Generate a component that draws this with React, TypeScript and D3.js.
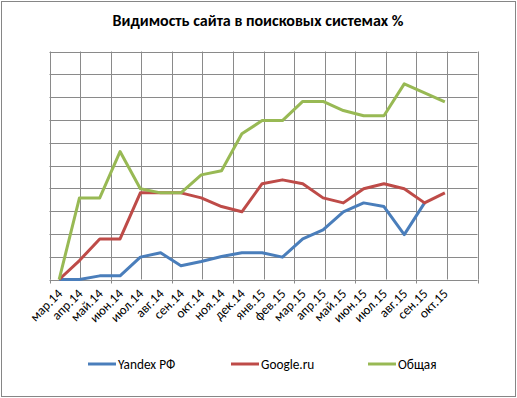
import React from 'react';
import * as d3 from 'd3';

const months = ['мар.14', 'апр.14', 'май.14', 'июн.14', 'июл.14', 'авг.14', 'сен.14', 'окт.14', 'ноя.14', 'дек.14',
  'янв.15', 'фев.15', 'мар.15', 'апр.15', 'май.15', 'июн.15', 'июл.15', 'авг.15', 'сен.15', 'окт.15'];

const yandex = [0, 0, 0.16, 0.16, 0.98, 1.17, 0.6, 0.79, 1.01, 1.17, 1.17, 0.98, 1.78, 2.18, 2.97, 3.36, 3.2, 1.97, 3.36, null];
const google = [0, 0.83, 1.78, 1.78, 3.8, 3.8, 3.8, 3.58, 3.2, 2.97, 4.2, 4.37, 4.2, 3.58, 3.36, 3.98, 4.2, 3.98, 3.36, 3.8];
const total = [0, 3.58, 3.58, 5.61, 3.98, 3.8, 3.8, 4.59, 4.77, 6.39, 6.97, 6.97, 7.81, 7.81, 7.41, 7.18, 7.18, 8.58, 8.19, 7.79];

const seriesNames = ['Yandex РФ', 'Google.ru', 'Общая'];
const seriesColors = ['#4a7ebb', '#be4b48', '#98b954'];

const W = 517;
const H = 398;
const plot = { left: 49.5, right: 477.5, top: 51.5, bottom: 279.5 };

export default function App() {
  const x = d3.scaleBand<string>().domain(months).range([49, 49 + 20 * 20.3]);
  const cx = (m: string) => (x(m) as number) + x.bandwidth() / 2;
  const y = d3.scaleLinear().domain([0, 10]).range([plot.bottom, plot.top]);
  const gx = d3.scaleLinear().domain([0, 14]).range([plot.left, plot.right]);

  const line = d3
    .line<number | null>()
    .defined(d => d != null)
    .x((_, i) => cx(months[i]))
    .y(d => y(d as number));

  const data = [yandex, google, total];
  const font = 'Carlito, Calibri, "Liberation Sans", Arial, sans-serif';

  return (
    <svg width={W} height={H} style={{ position: 'absolute', left: 0, top: 0, background: '#fff' }} fontFamily={font}>
      <rect x={1.5} y={1.5} width={514} height={395} fill="#fff" stroke="#868686" />
      <text x={258} y={26} textAnchor="middle" fontWeight="bold" fontSize={16} fill="#000">
        Видимость сайта в поисковых системах %
      </text>

      <g stroke="#8a8a8a" strokeWidth={1}>
        {d3.range(11).map(i => (
          <line key={'h' + i} x1={plot.left} x2={plot.right} y1={Math.round(y(i)) + 0.5} y2={Math.round(y(i)) + 0.5} />
        ))}
        {d3.range(15).map(i => (
          <line key={'v' + i} x1={Math.round(gx(i)) + 0.5} x2={Math.round(gx(i)) + 0.5} y1={plot.top} y2={plot.bottom} />
        ))}
        {d3.range(0, 15, 2).map(i => (
          <line key={'t' + i} x1={Math.round(gx(i)) + 0.5} x2={Math.round(gx(i)) + 0.5} y1={plot.bottom} y2={plot.bottom + 4} />
        ))}
      </g>

      {data.map((s, k) => (
        <path key={k} d={line(s) || ''} fill="none" stroke={seriesColors[k]} strokeWidth={3} strokeLinejoin="round" />
      ))}

      {months.map(m => (
        <text
          key={m}
          transform={`translate(${cx(m) + 4},${plot.bottom + 15}) rotate(-45)`}
          textAnchor="end"
          fontSize={13.3}
          fill="#000"
        >
          {m}
        </text>
      ))}

      {seriesNames.map((n, k) => {
        const lx = [88, 231, 368][k];
        return (
          <g key={n}>
            <line x1={lx} x2={lx + 28} y1={364} y2={364} stroke={seriesColors[k]} strokeWidth={3} />
            <text x={lx + 30} y={368.5} fontSize={13.3} fill="#000">
              {n}
            </text>
          </g>
        );
      })}
    </svg>
  );
}
